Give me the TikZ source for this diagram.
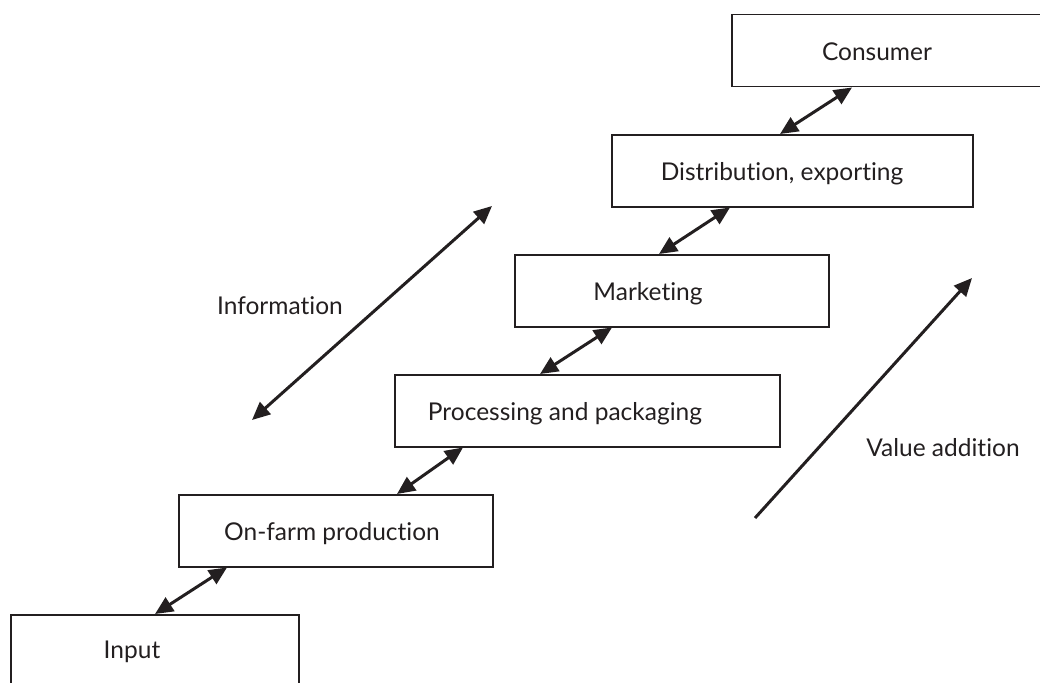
\documentclass[tikz,border=0pt]{standalone}
\usepackage{fontspec}
\setmainfont{Lato}[Ligatures={NoCommon,NoRare,NoDiscretionary}]
\usetikzlibrary{arrows.meta}
\definecolor{ink}{HTML}{231F20}
\begin{document}
\begin{tikzpicture}[x=1pt,y=-1pt,
  stagebox/.style={draw=ink, line width=1.5pt, rectangle, inner sep=0pt, anchor=north west},
  lbl/.style={text=ink, font=\fontsize{24.5}{29}\selectfont, inner sep=0pt},
  link/.style={draw=ink, line width=3pt, {Triangle[length=18pt,width=16pt]}-{Triangle[length=18pt,width=16pt]}},
  oneway/.style={draw=ink, line width=3pt, -{Triangle[length=18pt,width=16pt]}}]
\useasboundingbox (0,0) rectangle (1040,682);
\clip (0,0) rectangle (1040,682);

% stages of the chain, rising step by step
\node[stagebox, minimum width=288pt, minimum height=130pt] (inp)  at (10,614)  {};
\node[stagebox, minimum width=314pt, minimum height=72pt]  (farm) at (178,494) {};
\node[stagebox, minimum width=385pt, minimum height=72pt]  (proc) at (394,374) {};
\node[stagebox, minimum width=314pt, minimum height=72pt]  (mark) at (514,254) {};
\node[stagebox, minimum width=361pt, minimum height=72pt]  (dist) at (611,134) {};
\node[stagebox, minimum width=340pt, minimum height=72pt]  (cons) at (731,14)  {};

\node[lbl] (tinp)  at (132,652) {Input};
\node[lbl] (tfarm) at (332,534) {On-farm production};
\node[lbl] (tproc) at (565,414) {Processing and packaging};
\node[lbl] (tmark) at (648,294) {Marketing};
\node[lbl] (tdist) at (782,174) {Distribution, exporting};
\node[lbl] (tcons) at (877,52)  {Consumer};

% two-way links between neighbouring stages
\draw[link] ([xshift=145pt]inp.north west)  -- ([xshift=49pt]farm.south west);
\draw[link] ([xshift=219pt]farm.north west) -- ([xshift=69pt]proc.south west);
\draw[link] ([xshift=146pt]proc.north west) -- ([xshift=98pt]mark.south west);
\draw[link] ([xshift=145pt]mark.north west) -- ([xshift=119pt]dist.south west);
\draw[link] ([xshift=169pt]dist.north west) -- ([xshift=121pt]cons.south west);

% information flow
\coordinate (infoA) at (252,420);
\coordinate (infoB) at (492,206);
\draw[link] (infoA) -- (infoB);
\node[lbl] (tinfo) at (280,306) {Information};

% value addition
\coordinate (valA) at (755,518);
\coordinate (valB) at (972,278);
\draw[oneway] (valA) -- (valB);
\node[lbl] (tval) at (943,448) {Value addition};
\end{tikzpicture}
\end{document}
